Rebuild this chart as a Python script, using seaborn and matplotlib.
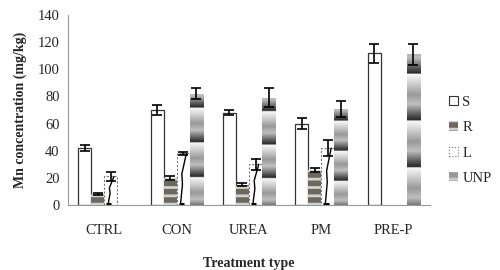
import numpy as np
import pandas as pd
import matplotlib
matplotlib.use('Agg')
import matplotlib.pyplot as plt
from matplotlib.patches import Patch
import seaborn as sns

# Data (0 = no bar drawn)
treatments = ['CTRL', 'CON', 'UREA', 'PM', 'PRE-P']
series = ['S', 'R', 'L', 'UNP']
s_vals = [42, 70, 68, 60, 112]
s_err = [2, 4, 2, 4, 7]
r_vals = [8, 20, 15, 26, 0]
r_err = [1, 1.5, 1, 1.5, 0]
l_vals = [21, 38, 30, 42, 0]
l_err = [3, 1, 4, 6, 0]
unp_vals = [0, 82, 79, 71, 111]
unp_err = [0, 4, 7, 6, 8]

values = {'S': s_vals, 'R': r_vals, 'L': l_vals, 'UNP': unp_vals}
errors = {'S': s_err, 'R': r_err, 'L': l_err, 'UNP': unp_err}

rows = []
for s in series:
    for t, v, e in zip(treatments, values[s], errors[s]):
        rows.append({'Treatment': t, 'Series': s, 'Mn': v, 'err': e})
df = pd.DataFrame(rows)

sns.set_style('white')
plt.rcParams['font.family'] = ['Liberation Serif', 'DejaVu Serif']
plt.rcParams['hatch.linewidth'] = 2.0

fig = plt.figure(figsize=(5, 2.7), dpi=100)
ax = fig.add_axes([0.136, 0.241, 0.724, 0.703])

sns.barplot(data=df, x='Treatment', y='Mn', hue='Series', order=treatments,
            hue_order=series, palette=['white', '#6f675c', 'white', '#999999'],
            width=0.72, errorbar=None, legend=False, ax=ax)

# gradient profile for the UNP picture fill (top of tile -> bottom)
prof_t = [0.0, 0.2, 0.45, 0.65, 0.9, 1.0]
prof_b = [0.98, 0.82, 0.6, 0.75, 0.3, 0.15]

for s, cont in zip(series, ax.containers):
    for bar, v, e in zip(cont.patches, values[s], errors[s]):
        if v == 0:
            bar.set_visible(False)
            continue
        x0, w, h = bar.get_x(), bar.get_width(), bar.get_height()
        xc = x0 + w / 2
        if s == 'S':
            bar.set_edgecolor('#333333')
            bar.set_linewidth(0.9)
        elif s == 'R':
            bar.set_hatch('--')
            bar.set_edgecolor('#cfd3cf')
            bar.set_linewidth(0)
        elif s == 'L':
            bar.set_edgecolor('#777777')
            bar.set_linestyle((0, (2, 1.5)))
            bar.set_linewidth(0.8)
            ax.plot([x0 + 0.3 * w, x0 + 0.45 * w, x0 + 0.4 * w, x0 + 0.75 * w],
                    [0.5, 0.4 * h, 0.6 * h, h], color='black', lw=1.0, zorder=3)
            ax.plot([x0 + 0.15 * w, x0 + 0.55 * w], [0.8, 0.8], color='black',
                    lw=2.2, solid_capstyle='butt', zorder=3)
        elif s == 'UNP':
            bar.set_facecolor('none')
            bar.set_linewidth(0)
            frac = np.linspace(1, 0, 400)
            t = ((0.25 + 0.31 * 3 - frac) % 0.31) / 0.31
            col = np.interp(t, prof_t, prof_b)
            img = np.tile(col[:, None], (1, 4))
            im = ax.imshow(img, cmap='gray', vmin=0, vmax=1, aspect='auto',
                           extent=[x0, x0 + w, 0, h], zorder=2,
                           interpolation='bilinear')
            im.set_clip_path(bar)
        if e > 0:
            ax.errorbar(xc, v, yerr=e, fmt='none', ecolor='black',
                        elinewidth=1.2, capsize=3.5, capthick=1.2, zorder=4)

ax.set_xlim(-0.5, len(treatments) - 0.5)
ax.set_ylim(0, 140)
ax.set_yticks(range(0, 141, 20))
ax.set_xticks(range(len(treatments)))
ax.set_xticks(np.arange(-0.5, len(treatments), 1), minor=True)
ax.tick_params(axis='x', which='major', length=0, pad=14, labelsize=10.5)
ax.tick_params(axis='x', which='minor', length=4, color='#888888', direction='out')
ax.tick_params(axis='y', length=3, color='#888888', direction='out',
               labelsize=10.5, pad=3)
for side in ['top', 'right']:
    ax.spines[side].set_visible(False)
for side in ['left', 'bottom']:
    ax.spines[side].set_color('#999999')
    ax.spines[side].set_linewidth(0.8)

ax.set_xlabel('Treatment type', fontsize=10, fontweight='bold', labelpad=14)
ax.set_ylabel('Mn concentration (mg/kg)', fontsize=10, fontweight='bold',
              labelpad=8)

handles = [Patch(facecolor='white', edgecolor='#333333', lw=0.8),
           Patch(facecolor='#6f675c', edgecolor='#cfd3cf', hatch='--', lw=0),
           Patch(facecolor='white', edgecolor='#777777', ls=':', lw=0.8),
           Patch(facecolor='#999999', edgecolor='#cccccc', hatch='--', lw=0)]
fig.legend(handles, series, loc='center left', bbox_to_anchor=(0.872, 0.48),
           frameon=False, fontsize=10.5, handlelength=0.6, handleheight=0.6,
           handletextpad=0.3, labelspacing=0.85)

fig.savefig('out.png', dpi=100)
